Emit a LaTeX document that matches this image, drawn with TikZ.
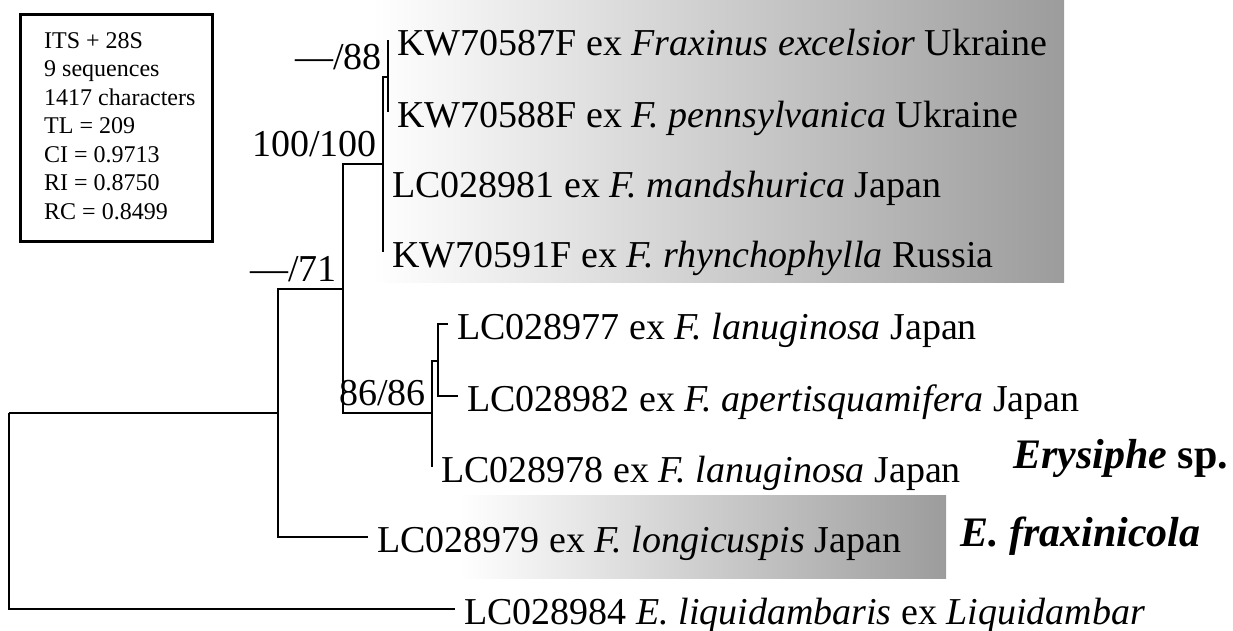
\documentclass[tikz,border=0pt]{standalone}
\usepackage{fontspec}
\setmainfont{Liberation Serif}
\definecolor{cladegray}{HTML}{9C9C9C}

\begin{document}
\begin{tikzpicture}[x=1pt, y=-1pt,
    br/.style={line width=2.6pt},
    tip/.style={anchor=base west, xshift=9pt, yshift=-15pt, inner sep=0pt, font=\fontsize{38}{42}\selectfont},
    supp/.style={anchor=south east, inner sep=0pt, xshift=-6pt, yshift=7pt, font=\fontsize{38}{42}\selectfont},
    clade/.style={anchor=base west, inner sep=0pt, font=\fontsize{42}{48}\selectfont\bfseries},
    statbox/.style={draw, line width=2.6pt, anchor=north west, minimum width=192pt, minimum height=227pt},
    statlines/.style={anchor=west, inner sep=0pt, align=left, font=\fontsize{24}{28.5}\selectfont}]
  \useasboundingbox (0,0) rectangle (1233,630);
  % shaded clades
  \shade[left color=white, right color=cladegray] (372,0) rectangle (1064,282);
  \shade[left color=white, right color=cladegray] (460,495) rectangle (946,578);
  % statistics
  \node[statbox] (info) at (19,13) {};
  \node[statlines] (infotext) at ([xshift=25pt, yshift=2pt]info.west) {ITS + 28S\\9 sequences\\1417 characters\\TL = 209\\CI = 0.9713\\RI = 0.8750\\RC = 0.8499};
  % internal nodes
  \coordinate (root) at (9,413);
  \coordinate (ingrp) at (278,413);
  \coordinate (n71) at (343,289);
  \coordinate (n100) at (383,164);
  \coordinate (n88) at (388,77);
  \coordinate (n86) at (432,413);
  \coordinate (n82) at (438,361);
  % tips
  \coordinate (t87) at (388,40);
  \coordinate (t88) at (388,112);
  \coordinate (t81) at (383,182);
  \coordinate (t91) at (383,252);
  \coordinate (t77) at (448,324);
  \coordinate (t82) at (458,396);
  \coordinate (t78) at (432,467);
  \coordinate (t79) at (368,537);
  \coordinate (t84) at (455,609);
  % branches
  \draw[br] (root) |- (ingrp);
  \draw[br] (root) |- (t84);
  \draw[br] (ingrp) |- (n71);
  \draw[br] (ingrp) |- (t79);
  \draw[br] (n71) |- (n100);
  \draw[br] (n71) |- (n86);
  \draw[br] (n100) |- (n88);
  \draw[br] (n100) |- (t81);
  \draw[br] (n100) |- (t91);
  \draw[br] (n88) |- (t87);
  \draw[br] (n88) |- (t88);
  \draw[br] (n86) |- (n82);
  \draw[br] (n86) |- (t78);
  \draw[br] (n82) |- (t77);
  \draw[br] (n82) |- (t82);
  % support values
  \node[supp] (s88) at (n88) {\textemdash/88};
  \node[supp] (s100) at (n100) {100/100};
  \node[supp] (s71) at (n71) {\textemdash/71};
  \node[supp] (s86) at (n86) {86/86};
  % tip labels
  \node[tip] (l87) at (t87) {KW70587F ex \textit{Fraxinus excelsior} Ukraine};
  \node[tip] (l88) at (t88) {KW70588F ex \textit{F. pennsylvanica} Ukraine};
  \node[tip] (l81) at (t81) {LC028981 ex \textit{F. mandshurica} Japan};
  \node[tip] (l91) at (t91) {KW70591F ex \textit{F. rhynchophylla} Russia};
  \node[tip] (l77) at (t77) {LC028977 ex \textit{F. lanuginosa} Japan};
  \node[tip] (l82) at (t82) {LC028982 ex \textit{F. apertisquamifera} Japan};
  \node[tip] (l78) at (t78) {LC028978 ex \textit{F. lanuginosa} Japan};
  \node[tip] (l79) at (t79) {LC028979 ex \textit{F. longicuspis} Japan};
  \node[tip] (l84) at (t84) {LC028984 \textit{E. liquidambaris} ex \textit{Liquidambar}};
  % clade names
  \node[clade] (erys) at (1013,468) {\textit{Erysiphe} sp.};
  \node[clade] (frax) at (960,546) {\textit{E. fraxinicola}};
\end{tikzpicture}
\end{document}
